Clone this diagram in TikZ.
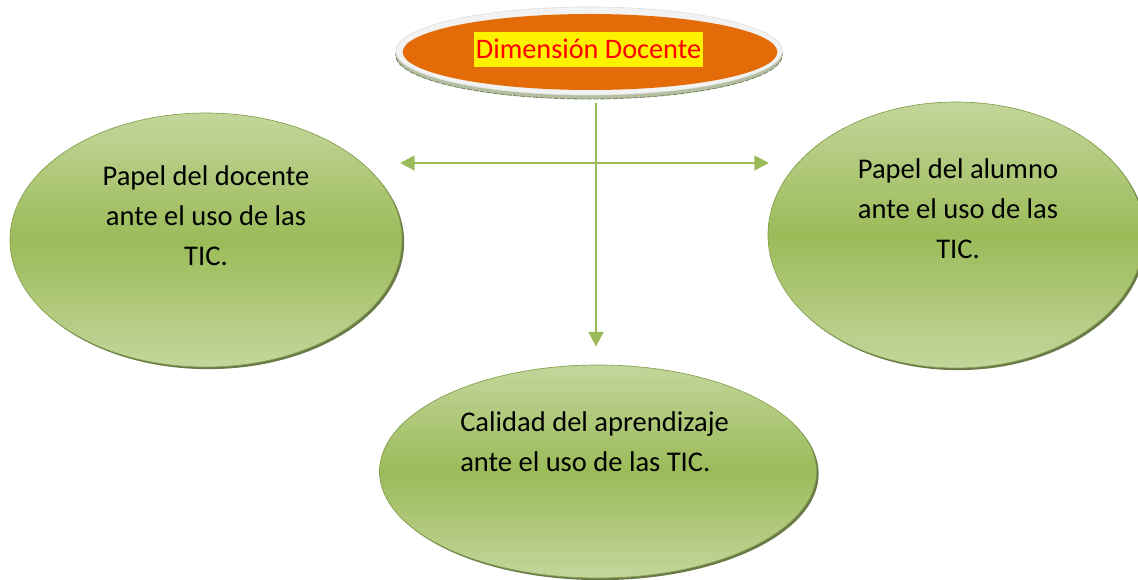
\documentclass[tikz,border=0pt]{standalone}
\usepackage{fontspec}
\setmainfont{Carlito}
\usetikzlibrary{shapes.geometric,shadows,arrows.meta}
\definecolor{verdeclaro}{HTML}{C3D69B}
\definecolor{verdemedio}{HTML}{9BBB59}
\definecolor{sombra}{HTML}{4F6228}
\definecolor{naranja}{HTML}{E36C09}
\definecolor{anillo}{HTML}{F2F2F2}
\definecolor{bisel}{HTML}{B4BFA2}
\definecolor{biselborde}{HTML}{75835F}

\begin{document}
\begin{tikzpicture}[x=0.75pt,y=-0.75pt,
  main node/.style={ellipse,inner sep=0pt,draw=verdemedio!85!black,line width=0.5pt,
    top color=verdeclaro,bottom color=verdeclaro,middle color=verdemedio,
    drop shadow={shadow xshift=1.6pt,shadow yshift=-1.6pt,fill=sombra,opacity=0.85}},
  texto/.style={font=\fontsize{21.4}{30}\selectfont,align=center,inner sep=0pt},
  flecha/.style={-{Triangle[length=11pt,width=11pt]},draw=verdemedio,fill=verdemedio,line width=2pt}]

\useasboundingbox (0,0) rectangle (1138,580);

\node[main node,minimum width=294pt,minimum height=190.5pt] (doc) at (206,240) {};
\node[main node,minimum width=282pt,minimum height=199.5pt] (alu) at (956,235) {};
\node[main node,minimum width=327.75pt,minimum height=159.75pt] (cal) at (598,471.5) {};

\node[texto] (doct) at (206,216) {Papel del docente\\ante el uso de las\\TIC.};
\node[texto] (alut) at (958,209) {Papel del alumno\\ante el uso de las\\TIC.};
\node[texto,align=left,anchor=west] (calt) at (460,442) {Calidad del aprendizaje\\ante el uso de las TIC.};

\node[ellipse,inner sep=0pt,fill=bisel,draw=biselborde,line width=0.6pt,dash pattern=on 4pt off 1pt,
  minimum width=290pt,minimum height=66pt] (dimb) at (589,55) {};
\node[ellipse,inner sep=0pt,fill=anillo,draw=black!12,line width=0.5pt,
  minimum width=290pt,minimum height=66pt] (dim) at (589,51) {};
\node[ellipse,inner sep=0pt,fill=naranja,minimum width=281pt,minimum height=57pt] (dimo) at (590,52) {};
\node[font=\fontsize{21.2}{25}\selectfont,text=red,fill=yellow,inner xsep=1.5pt,inner ysep=0pt,
  text height=20pt,text depth=6pt] (dimt) at (588.5,49.5) {Dimensión Docente};

\coordinate (cruce) at (596,163);
\coordinate (izq) at (400,163);
\coordinate (der) at (769,163);

\draw[flecha,shorten <=3pt,shorten >=13.5pt] (dimb.south -| cruce) -- (cal.north -| cruce);
\draw[flecha] (cruce) -- (izq);
\draw[flecha] (cruce) -- (der);
\end{tikzpicture}
\end{document}
